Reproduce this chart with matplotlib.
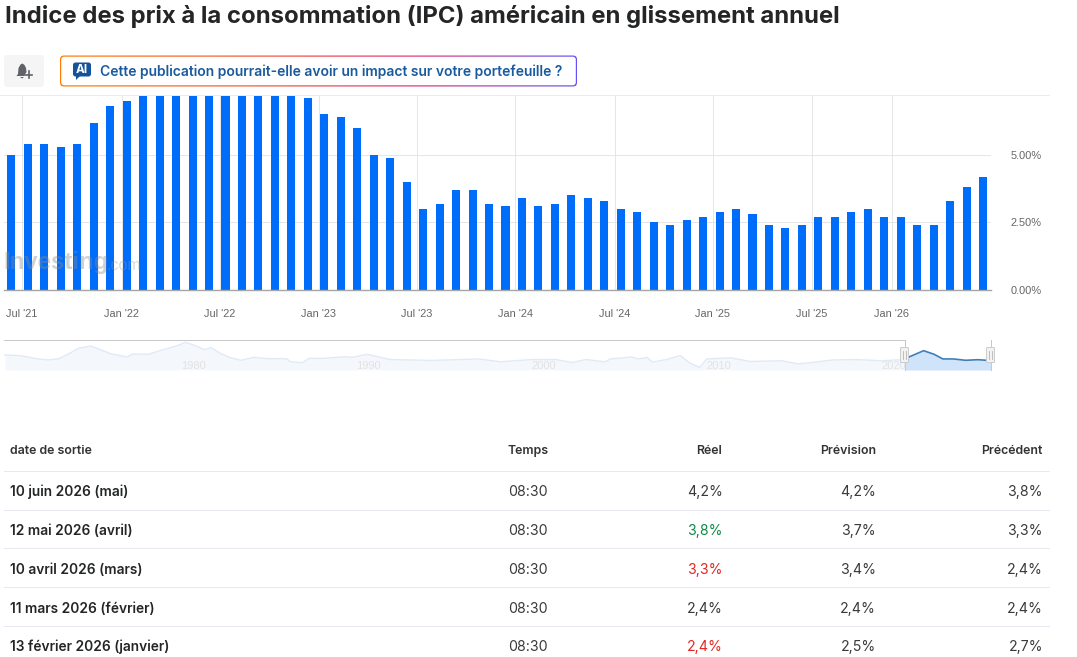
import matplotlib
matplotlib.use("Agg")
import matplotlib.pyplot as plt
import numpy as np
from matplotlib.patches import FancyBboxPatch, Polygon, Rectangle

# monthly CPI y/y, one bar per release
values = [5.0, 5.4, 5.4, 5.3, 5.4, 6.2, 6.8, 7.0, 7.5, 7.9, 8.5, 8.3, 8.6, 9.1, 8.5,
          8.3, 8.2, 7.7, 7.1, 6.5, 6.4, 6.0, 5.0, 4.9, 4.0, 3.0, 3.2, 3.7, 3.7, 3.2,
          3.1, 3.4, 3.1, 3.2, 3.5, 3.4, 3.3, 3.0, 2.9, 2.5, 2.4, 2.6, 2.7, 2.9, 3.0,
          2.8, 2.4, 2.3, 2.4, 2.7, 2.7, 2.9, 3.0, 2.7, 2.7, 2.4, 2.4, 3.3, 3.8, 4.2]
tick_labels = ["Jul '21", "Jan '22", "Jul '22", "Jan '23", "Jul '23", "Jan '24",
               "Jul '24", "Jan '25", "Jul '25", "Jan '26"]
tick_pos = [0.64, 6.7, 12.65, 18.65, 24.6, 30.6, 36.65, 42.6, 48.6, 53.45]
y_ticks = [0, 2.5, 5]
y_labels = ["0.00%", "2.50%", "5.00%"]

# long history strip under the chart
mini_years = [1969.2, 1970.1, 1971.1, 1971.7, 1972.3, 1972.9, 1973.4, 1974.1, 1974.7, 1975.3,
              1976.2, 1976.5, 1977.4, 1978.3, 1979.0, 1979.5, 1980.0, 1980.6, 1981.0, 1981.5,
              1982.1, 1982.7, 1983.4, 1984.2, 1985.3, 1985.5, 1986.2, 1986.6, 1987.4, 1988.6,
              1989.1, 1989.9, 1990.5, 1991.2, 1993.6, 1996.3, 1997.5, 1999.3, 2000.7, 2001.6,
              2002.4, 2003.5, 2003.8, 2005.0, 2005.4, 2005.9, 2006.2, 2007.0, 2007.8, 2008.3,
              2008.9, 2009.3, 2010.7, 2011.8, 2013.6, 2014.5, 2015.3, 2016.5, 2017.8, 2019.3,
              2020.6, 2020.9, 2021.7, 2022.3, 2022.8, 2023.4, 2024.1, 2024.8, 2025.3, 2025.6]
mini_vals = [6.3, 5.9, 3.7, 3.0, 3.9, 7.4, 10.8, 12.3, 9.7, 7.0,
             5.0, 7.0, 6.8, 10.1, 12.3, 14.8, 13.0, 9.9, 11.2, 7.5,
             4.5, 2.8, 4.8, 3.9, 3.9, 1.9, 1.2, 4.1, 4.1, 5.2,
             4.8, 6.8, 5.2, 3.3, 2.7, 3.7, 1.8, 3.3, 3.3, 1.3,
             3.3, 1.8, 3.7, 5.0, 3.7, 4.7, 1.6, 3.3, 6.0, 1.3,
             -2.0, 3.7, 4.4, 2.0, 2.5, 0.4, 1.3, 3.0, 3.3, 2.5,
             3.3, 5.2, 9.2, 6.8, 3.7, 3.7, 2.8, 3.2, 2.8, 2.8]
mini_decades = [1980, 1990, 2000, 2010, 2020]

title = "Indice des prix à la consommation (IPC) américain en glissement annuel"
prompt = "Cette publication pourrait-elle avoir un impact sur votre portefeuille ?"

headers = ["date de sortie", "Temps", "Réel", "Prévision", "Précédent"]
dates = ["10 juin 2026 (mai)", "12 mai 2026 (avril)", "10 avril 2026 (mars)",
         "11 mars 2026 (février)", "13 février 2026 (janvier)"]
times = ["08:30", "08:30", "08:30", "08:30", "08:30"]
actual = ["4,2%", "3,8%", "3,3%", "2,4%", "2,4%"]
actual_colors = ["#3a3a3a", "#0f8a45", "#e5261f", "#3a3a3a", "#e5261f"]
forecast = ["4,2%", "3,7%", "3,4%", "2,4%", "2,5%"]
previous = ["3,8%", "3,3%", "2,4%", "2,4%", "2,7%"]

W, H = 1077, 657
UI = "Inter"
CHART = "Liberation Sans"
HAIR = 0.72  # one pixel at dpi 100


def px_axes(x0, y0, x1, y1, **kw):
    return fig.add_axes([x0 / W, 1 - y1 / H, (x1 - x0) / W, (y1 - y0) / H], **kw)


fig = plt.figure(figsize=(W / 100, H / 100), dpi=100, facecolor="white")

# main bars
ax = px_axes(4, 96, 991, 290)
x = np.arange(len(values))
ax.bar(x, values, width=0.49, color="#006cfa", zorder=3)
ax.set_xlim(-0.45, 59.48)
ax.set_ylim(0, 7.185)
ax.set_xticks(tick_pos)
ax.set_xticklabels(tick_labels, fontfamily=CHART, fontsize=7.9, color="#666666")
ax.set_yticks(y_ticks)
ax.set_yticklabels(y_labels, fontfamily=CHART, fontsize=7.9, color="#666666")
ax.yaxis.tick_right()
ax.tick_params(axis="x", length=0, pad=14)
ax.tick_params(axis="y", length=0, pad=14)
ax.grid(True, color="#e6e6e6", linewidth=HAIR, zorder=0)
for side in ["top", "left", "right"]:
    ax.spines[side].set_visible(False)
ax.spines["bottom"].set_color("#a6a6a6")
ax.spines["bottom"].set_linewidth(1)
ax.spines["bottom"].set_zorder(4)

# history strip
mini = px_axes(4, 340, 991, 370)
mini.set_xlim(1969.15, 2025.55)
mini.set_ylim(-3.67, 16.33)
mini.set_facecolor("none")
my = np.array(mini_years)
mv = np.array(mini_vals)
old = my <= 2020.6
new = my >= 2020.6
mini.fill_between(my[old], mv[old], -3.67, color="#f4f8fd", linewidth=0)
mini.plot(my[old], mv[old], color="#e0eaf6", linewidth=1.0)
mini.fill_between(my[new], mv[new], -3.67, color="#cfe3fb", linewidth=0)
mini.plot(my[new], mv[new], color="#3f7fb8", linewidth=1.2)
for dec in mini_decades:
    mini.text(dec, -1.2, str(dec), ha="center", va="center", fontfamily=CHART,
              fontsize=8, color="#e2e2e2", zorder=1)
mini.axis("off")

# everything else is page furniture, drawn in pixel coordinates
ui = px_axes(0, 0, W, H)
ui.set_xlim(0, W)
ui.set_ylim(H, 0)
ui.axis("off")
ui.patch.set_alpha(0)


def rounded(x0, y0, x1, y1, r, **kw):
    p = FancyBboxPatch((x0 + r, y0 + r), x1 - x0 - 2 * r, y1 - y0 - 2 * r,
                       boxstyle="round,pad=%g,rounding_size=%g" % (r, r), **kw)
    ui.add_patch(p)
    return p


ui.text(5, 16, title, fontfamily=UI, fontweight="bold", fontsize=17.2, color="#232526", va="center")

# bell button
rounded(4, 55, 44, 87, 3, facecolor="#f5f5f5", edgecolor="none")
ui.add_patch(Polygon([(16.5, 76), (18, 74), (18.5, 68), (20.5, 64.5), (22.5, 63.5), (24.5, 65),
                      (26, 68), (26.5, 72), (24, 76)], closed=True, facecolor="#5f6368", edgecolor="none"))
ui.add_patch(Polygon([(20, 77), (24, 77), (22, 78.5)], closed=True, facecolor="#5f6368", edgecolor="none"))
ui.plot([25, 32], [74.5, 74.5], color="#5f6368", linewidth=1.2)
ui.plot([28.5, 28.5], [71, 78], color="#5f6368", linewidth=1.2)

# gradient outlined prompt
grad = np.array([[1.0, 0.49, 0.0], [0.95, 0.32, 0.22], [0.88, 0.19, 0.48], [0.39, 0.32, 0.95]])
stops = [0, 0.4, 0.7, 1]
t = np.linspace(0, 1, 256)
img = np.stack([np.interp(t, stops, grad[:, i]) for i in range(3)], axis=-1)[None, :, :]
im = ui.imshow(img, extent=(60, 577, 87, 55), aspect="auto", zorder=1)
ui.set_xlim(0, W)
ui.set_ylim(H, 0)
clip = rounded(60, 55.5, 577, 86.5, 4, facecolor="none", edgecolor="none")
im.set_clip_path(clip)
rounded(61.2, 56.7, 575.8, 85.3, 3, facecolor="white", edgecolor="none", zorder=2)
rounded(73, 62.5, 91, 76.5, 2.5, facecolor="#14539a", edgecolor="none", zorder=3)
ui.add_patch(Polygon([(76, 76), (80, 76), (76, 80)], closed=True, facecolor="#14539a", zorder=3))
ui.text(82, 70, "AI", fontfamily=UI, fontweight="bold", fontsize=8.5, color="white",
        ha="center", va="center", zorder=4)
ui.text(100, 72, prompt, fontfamily=UI, fontweight="semibold", fontsize=10.0, color="#1a5a9e",
        va="center", zorder=4)

# header separator
ui.add_patch(Rectangle((0, 95), 1050, 1, facecolor="#ebebeb", edgecolor="none", zorder=5))

# watermark
ui.text(3, 263, "Investing", fontfamily=CHART, fontweight="bold", fontsize=17.3, color="#8c8c8c",
        alpha=0.4, va="center", zorder=6)
ui.text(107, 266, ".com", fontfamily=CHART, fontsize=11.5, color="#9a9a9a", alpha=0.35,
        va="center", zorder=6)

# navigator frame and handles
ui.plot([4, 904.5, 904.5], [339.5, 339.5, 370], color="#c8c8c8", linewidth=HAIR)
ui.plot([990.5, 990.5], [340, 370], color="#c8c8c8", linewidth=HAIR)
for hx in [904.5, 990.5]:
    rounded(hx - 4, 347.5, hx + 4, 362.5, 1, facecolor="#f2f2f2", edgecolor="#cccccc", linewidth=HAIR, zorder=6)
    ui.plot([hx - 1.2, hx - 1.2], [351, 359], color="#b5b5b5", linewidth=0.6, zorder=7)
    ui.plot([hx + 1.2, hx + 1.2], [351, 359], color="#b5b5b5", linewidth=0.6, zorder=7)

# table
col_right = [722, 876, 1042]
head_y = 451
row_y = [492, 531, 570, 609, 647]
line_y = [471, 510, 548, 587, 626]
for yy in line_y:
    ui.plot([4, 1049], [yy, yy], color="#e6e9f0", linewidth=HAIR)
ui.text(10, head_y, headers[0], fontfamily=UI, fontweight="semibold", fontsize=8.9, color="#333333", va="center")
ui.text(508, head_y, headers[1], fontfamily=UI, fontweight="semibold", fontsize=8.9, color="#333333", va="center")
for h, xr in zip(headers[2:], col_right):
    ui.text(xr, head_y, h, fontfamily=UI, fontweight="semibold", fontsize=8.9, color="#333333",
            va="center", ha="right")
for i, yy in enumerate(row_y):
    ui.text(10, yy, dates[i], fontfamily=UI, fontweight="semibold", fontsize=9.9, color="#232526", va="center")
    ui.text(508.5, yy, times[i], fontfamily=UI, fontsize=10.2, color="#3a3a3a", va="center")
    ui.text(col_right[0] + 1, yy, actual[i], fontfamily=UI, fontsize=10.2, color=actual_colors[i], va="center", ha="right")
    ui.text(col_right[1], yy, forecast[i], fontfamily=UI, fontsize=10.2, color="#3a3a3a", va="center", ha="right")
    ui.text(col_right[2] + 1, yy, previous[i], fontfamily=UI, fontsize=10.2, color="#3a3a3a", va="center", ha="right")

fig.savefig("out.png", dpi=100)
